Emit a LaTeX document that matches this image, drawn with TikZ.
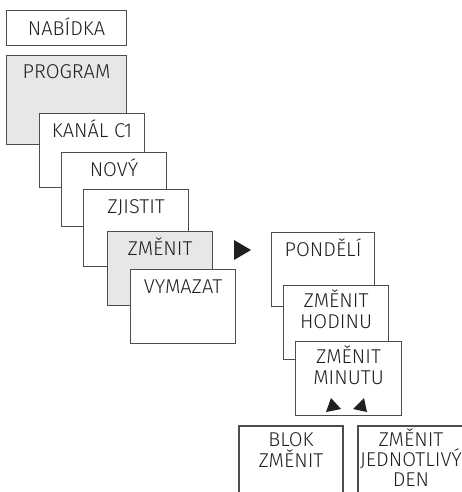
\documentclass[tikz,border=0pt]{standalone}
\usepackage{fontspec}
\setmainfont{Fira Sans}[UprightFont={* Light}]
\usetikzlibrary{positioning}
\usetikzlibrary{calc}

\definecolor{frame}{HTML}{4D4D4D}
\definecolor{shade}{HTML}{E6E7E8}
\definecolor{ink}{HTML}{231F20}

\tikzset{
  card/.style={draw=frame, line width=1.1pt, fill=white, anchor=north west,
    minimum width=105pt, minimum height=75pt, inner sep=0pt},
  greycard/.style={card, fill=shade},
  caption/.style={anchor=north, inner sep=0pt, align=center, text=ink,
    font=\fontsize{20}{21}\selectfont,
    execute at begin node={\rule{0pt}{19pt}}},
  tri/.style={fill=ink, draw=none}
}

\begin{document}
\begin{tikzpicture}[x=1pt, y=-1pt]
  \useasboundingbox (0,0) rectangle (462,492);

  % menu head
  \node[card, minimum width=120pt, minimum height=35pt] (nabidka) at (6,10) {};
  \node[caption] (tnabidka) at ($(nabidka.north)+(0,6.8)$) {NABÍDKA};

  % cascade of menu cards
  \foreach \x/\y/\w/\h/\n/\t/\s in {6/55/120/89/program/PROGRAM/greycard,
      39/113/105/74/kanal/KANÁL C1/card,
      61/152/105/74/novy/NOVÝ/card,
      83/189/105/77/zjistit/ZJISTIT/card,
      107/231/105/74/zmenit/ZMĚNIT/greycard,
      130/269/105/74/vymazat/VYMAZAT/card}
    {\node[\s, minimum width=\w pt, minimum height=\h pt] (\n) at (\x,\y) {};
     \node[caption] (t\n) at ($(\n.north)+(0,4.8)$) {\t};}

  % arrow to the sub menu
  \coordinate (a1) at (234,240);
  \coordinate (a2) at (234,260);
  \coordinate (a3) at (251,250);
  \fill[tri] (a1) -- (a2) -- (a3) -- cycle;

  % sub menu
  \foreach \x/\y/\w/\n/\t in {271/232/103/pondeli/PONDĚLÍ,
      283/285/105/hodinu/ZMĚNIT\\HODINU,
      295/341/106/minutu/ZMĚNIT\\MINUTU}
    {\node[card, minimum width=\w pt, minimum height=74pt] (\n) at (\x,\y) {};
     \node[caption] (t\n) at ($(\n.north)+(0,4.8)$) {\t};}

  % left / right marks
  \fill[tri] (326,412) -- (331,398) -- (341,409) -- cycle;
  \fill[tri] (367,412) -- (364,398) -- (353,409) -- cycle;

  % open cards at the bottom
  \coordinate (blok sw) at (239,493);
  \coordinate (blok nw) at (239,426);
  \coordinate (blok ne) at (343,426);
  \coordinate (blok se) at (343,493);
  \draw[draw=frame, line width=1.1pt] (blok sw) -- (blok nw) -- (blok ne) -- (blok se);
  \node[caption] (tblok) at ($(blok nw)!0.5!(blok ne)+(0,6.8)$) {BLOK\\ZMĚNIT};

  \coordinate (den sw) at (358,493);
  \coordinate (den nw) at (358,426);
  \coordinate (den ne) at (464,426);
  \draw[draw=frame, line width=1.1pt] (den sw) -- (den nw) -- (den ne);
  \node[caption, font=\fontsize{20}{20}\selectfont] (tden) at ($(den nw)!0.5!(den ne)+(0,3)$) {ZMĚNIT\\JEDNOTLIVÝ\\DEN};
\end{tikzpicture}
\end{document}
